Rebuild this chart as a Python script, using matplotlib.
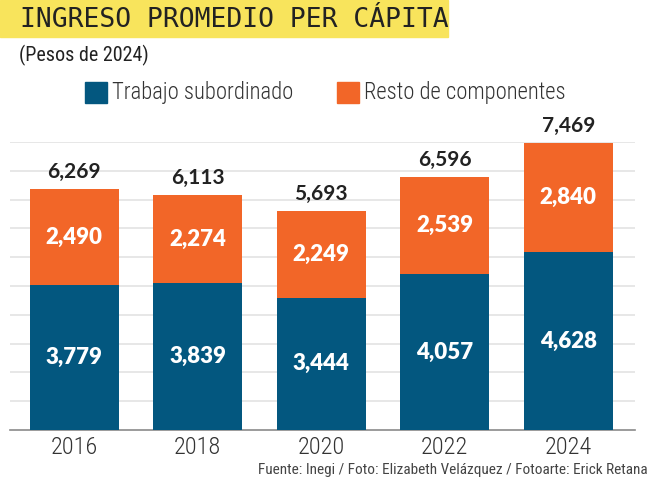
import matplotlib.pyplot as plt
import numpy as np
from matplotlib.patches import Rectangle

# Datos
anios = ['2016', '2018', '2020', '2022', '2024']
trabajo_subordinado = [3779, 3839, 3444, 4057, 4628]
resto_componentes = [2490, 2274, 2249, 2539, 2840]
totales = [6269, 6113, 5693, 6596, 7469]

azul = '#03577f'
naranja = '#f26628'
amarillo = '#f8e45c'
narrow = ['Roboto Condensed', 'Liberation Sans Narrow', 'DejaVu Sans']
num_font = ['Lato', 'Open Sans', 'DejaVu Sans']

W, H = 660, 492
fig = plt.figure(figsize=(W / 100, H / 100), dpi=100)

# Área de ejes en píxeles
left, right, base, top = 10, 635, 430, 142
ax = fig.add_axes([left / W, (H - base) / H, (right - left) / W, (base - top) / H])

x = np.arange(len(anios))
ax.bar(x, trabajo_subordinado, width=0.72, color=azul, zorder=3)
ax.bar(x, resto_componentes, width=0.72, bottom=trabajo_subordinado, color=naranja, zorder=3)

ax.set_xlim(-0.52, 4.54)
ax.set_ylim(0, 7500)
ax.set_yticks(np.arange(750, 7501, 750))
ax.yaxis.grid(True, color='#e3e3e3', linewidth=1.2, zorder=0)
ax.tick_params(axis='y', length=0, labelleft=False)
ax.tick_params(axis='x', length=0, pad=4)
for s in ['top', 'right', 'left']:
    ax.spines[s].set_visible(False)
ax.spines['bottom'].set_color('#8a8a8a')
ax.spines['bottom'].set_linewidth(1.2)
ax.set_xticks(x)
ax.set_xticklabels(anios, fontsize=17.5, color='#333333', family=narrow, fontweight='light')

for i in range(len(anios)):
    ax.text(x[i], trabajo_subordinado[i] / 2, f'{trabajo_subordinado[i]:,}', ha='center', va='center',
            color='white', fontsize=16, fontweight='heavy', family=num_font, zorder=4)
    ax.text(x[i], trabajo_subordinado[i] + resto_componentes[i] / 2, f'{resto_componentes[i]:,}',
            ha='center', va='center', color='white', fontsize=16, fontweight='heavy', family=num_font, zorder=4)
    ax.annotate(f'{totales[i]:,}', (x[i], totales[i]), xytext=(0, 5), textcoords='offset points',
                ha='center', va='bottom', fontsize=15, fontweight='bold', color='#222222',
                family=num_font, annotation_clip=False)

# Título con fondo amarillo
fig.patches.append(Rectangle((0, 1 - 37 / H), 448 / W, 37 / H, transform=fig.transFigure,
                             color=amarillo, zorder=0))
fig.text(20 / W, 1 - 20 / H, 'INGRESO PROMEDIO PER CÁPITA', fontsize=19, family='DejaVu Sans Mono',
         va='center', ha='left', color='#222222')
fig.text(19 / W, 1 - 55 / H, '(Pesos de 2024)', fontsize=14.5, family=narrow, va='center', color='#222222')

# Leyenda
fig.patches.append(Rectangle((85 / W, 1 - 103 / H), 22 / W, 21 / H, transform=fig.transFigure, color=azul))
fig.text(112 / W, 1 - 93 / H, 'Trabajo subordinado', fontsize=16.3, family=narrow, fontweight='light',
         va='center', color='#333333')
fig.patches.append(Rectangle((337 / W, 1 - 103 / H), 22 / W, 21 / H, transform=fig.transFigure, color=naranja))
fig.text(364 / W, 1 - 93 / H, 'Resto de componentes', fontsize=16.3, family=narrow, fontweight='light',
         va='center', color='#333333')

fig.text(648 / W, 1 - 470 / H, 'Fuente: Inegi / Foto: Elizabeth Velázquez / Fotoarte: Erick Retana',
         fontsize=11, family=narrow, ha='right', va='center', color='#444444')

fig.savefig('out.png', dpi=100, facecolor='white')
